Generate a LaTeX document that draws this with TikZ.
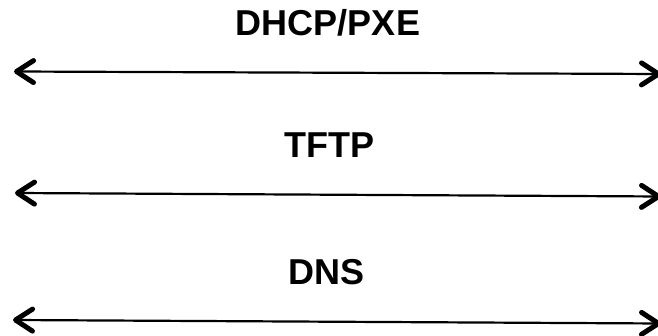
\documentclass[tikz,border=0pt]{standalone}
\usepackage{fontspec}
\setmainfont{Liberation Sans}
\usepackage{tikz}
\usetikzlibrary{arrows.meta}
\tikzset{hd/.tip={Straight Barb[length=17pt,width=22pt,line width=5pt,round]}}
\tikzstyle{lnk} = [line width=2.2pt, hd-hd]
\tikzstyle{lbl} = [anchor=base, inner sep=0pt, font=\bfseries\fontsize{36}{40}\selectfont]

\begin{document}
\begin{tikzpicture}[yscale=-1]
			\useasboundingbox (0pt,0pt) rectangle (658pt,336pt);
			\node[lbl] (dhcp) at (328pt,36pt) {DHCP/PXE};
			\node[lbl] (tftp) at (329pt,158pt) {TFTP};
			\node[lbl] (dns) at (326.5pt,285pt) {DNS};
			\coordinate (dhcpL) at (14pt,71.5pt);
			\coordinate (dhcpR) at (661pt,74pt);
			\coordinate (tftpL) at (15pt,193pt);
			\coordinate (tftpR) at (661pt,196.5pt);
			\coordinate (dnsL) at (13pt,320pt);
			\coordinate (dnsR) at (661pt,323.5pt);
			\draw[lnk] (dhcpL) -- (dhcpR);
			\draw[lnk] (tftpL) -- (tftpR);
			\draw[lnk] (dnsL) -- (dnsR);
		\end{tikzpicture}
\end{document}
